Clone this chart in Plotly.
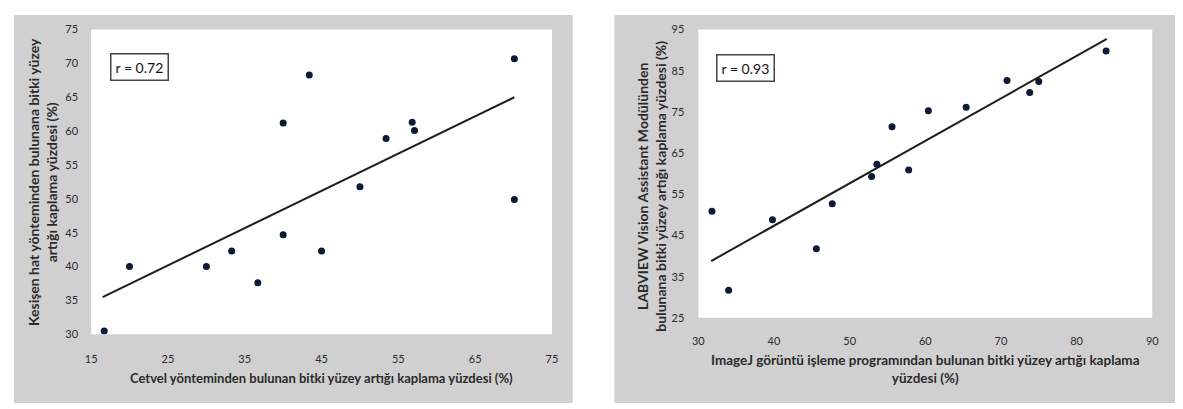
import plotly.graph_objects as go

# Page is rendered with an 8px body margin, so the figure is offset by 8px.
OFF = 8
W, H = 1183 - OFF, 409 - OFF

# ---- Left chart data ----
cetvel_x = [16.7, 20.0, 30.0, 33.3, 36.7, 40.0, 40.0, 43.4, 45.0, 50.0, 53.4, 56.8, 57.1, 70.1, 70.1]
kesisen_y = [30.5, 40.0, 40.0, 42.3, 37.6, 44.7, 61.2, 68.3, 42.3, 51.8, 58.9, 61.3, 60.1, 70.7, 49.9]
trend1_x = [16.5, 70.1]
trend1_y = [35.5, 65.0]
left_xticks = [15, 25, 35, 45, 55, 65, 75]
left_yticks = [30, 35, 40, 45, 50, 55, 60, 65, 70, 75]

# ---- Right chart data ----
imagej_x = [31.8, 34.0, 39.8, 45.6, 47.7, 52.9, 53.6, 55.6, 57.8, 60.4, 65.4, 70.8, 73.8, 75.0, 83.9]
labview_y = [50.9, 31.7, 48.8, 41.8, 52.7, 59.3, 62.3, 71.4, 60.9, 75.3, 76.1, 82.6, 79.7, 82.4, 89.8]
trend2_x = [31.7, 84.0]
trend2_y = [38.8, 92.7]
right_xticks = [30, 40, 50, 60, 70, 80, 90]
right_yticks = [25, 35, 45, 55, 65, 75, 85, 95]

FONT = "Lato"
DOT = "#0b1a36"
GRAY = "#d0d0d0"
TXT = "#2b2b2b"

fig = go.Figure()
fig.add_trace(go.Scatter(x=trend1_x, y=trend1_y, mode="lines",
                         line=dict(color="#1e1e1e", width=2), xaxis="x", yaxis="y"))
fig.add_trace(go.Scatter(x=cetvel_x, y=kesisen_y, mode="markers",
                         marker=dict(color=DOT, size=7), xaxis="x", yaxis="y"))
fig.add_trace(go.Scatter(x=trend2_x, y=trend2_y, mode="lines",
                         line=dict(color="#1e1e1e", width=2), xaxis="x2", yaxis="y2"))
fig.add_trace(go.Scatter(x=imagej_x, y=labview_y, mode="markers",
                         marker=dict(color=DOT, size=7), xaxis="x2", yaxis="y2"))


def px_x(p):
    return max(0.0, min(1.0, (p - OFF) / W))


def px_y(p):
    return max(0.0, min(1.0, 1 - (p - OFF) / H))


axis_common = dict(showgrid=False, zeroline=False, showline=False, ticks="",
                   tickfont=dict(family=FONT, size=11, color=TXT))

fig.update_layout(
    width=W, height=H,
    margin=dict(l=0, r=0, t=0, b=0),
    paper_bgcolor="white", plot_bgcolor="white",
    showlegend=False,
    xaxis=dict(domain=[px_x(86), px_x(552)], range=[15, 75], tickvals=left_xticks,
               ticklabelstandoff=17, anchor="y", **axis_common),
    yaxis=dict(domain=[px_y(338), px_y(23)], range=[30, 75], tickvals=left_yticks,
               ticklabelstandoff=12, anchor="x", **axis_common),
    xaxis2=dict(domain=[px_x(700), px_x(1159)], range=[30, 90], tickvals=right_xticks,
                ticklabelstandoff=15, anchor="y2", **axis_common),
    yaxis2=dict(domain=[px_y(321), px_y(23)], range=[25, 95], tickvals=right_yticks,
                ticklabelstandoff=13, anchor="x2", **axis_common),
)

shapes = [
    dict(type="rect", xref="paper", yref="paper", x0=px_x(7), x1=px_x(573),
         y0=px_y(409), y1=px_y(5), fillcolor=GRAY, line=dict(width=0), layer="below"),
    dict(type="rect", xref="paper", yref="paper", x0=px_x(615), x1=1.0,
         y0=px_y(409), y1=px_y(5), fillcolor=GRAY, line=dict(width=0), layer="below"),
    dict(type="rect", xref="x domain", yref="y domain", x0=0, x1=1, y0=0, y1=1,
         fillcolor="white", line=dict(width=0), layer="below"),
    dict(type="rect", xref="x2 domain", yref="y2 domain", x0=0, x1=1, y0=0, y1=1,
         fillcolor="white", line=dict(width=0), layer="below"),
]
fig.update_layout(shapes=shapes)

box_style = dict(xanchor="center", yanchor="middle", showarrow=False,
                 font=dict(family=FONT, size=14, color="#111"), bgcolor="white",
                 bordercolor="#444", borderwidth=1.5, borderpad=4,
                 xref="paper", yref="paper")

anns = [
    dict(text="r = 0.72", x=px_x(134.5), y=px_y(61.5), **box_style),
    dict(text="r = 0.93", x=px_x(748), y=px_y(62.5), **box_style),
    # left axis titles
    dict(text="<b>Cetvel yönteminden bulunan bitki yüzey artığı kaplama yüzdesi (%)</b>",
         xref="paper", yref="paper", x=px_x(319), y=px_y(383),
         xanchor="center", yanchor="middle", showarrow=False,
         font=dict(family=FONT, size=13, color=TXT)),
    dict(text="<b>Kesişen hat yönteminden bulunana bitki yüzey<br>artığı kaplama yüzdesi (%)</b>",
         xref="paper", yref="paper", x=px_x(37), y=px_y(181),
         xanchor="center", yanchor="middle", showarrow=False, textangle=-90,
         align="center", font=dict(family=FONT, size=14, color=TXT)),
    # right axis titles
    dict(text="<b>ImageJ görüntü işleme programından bulunan bitki yüzey artığı kaplama<br>yüzdesi (%)</b>",
         xref="paper", yref="paper", x=px_x(930), y=px_y(374),
         xanchor="center", yanchor="middle", showarrow=False, align="center",
         font=dict(family=FONT, size=13.5, color=TXT)),
    dict(text="<b>LABVIEW Vision Assistant Modülünden<br>bulunana bitki yüzey artığı kaplama yüzdesi (%)</b>",
         xref="paper", yref="paper", x=px_x(652.5), y=px_y(185),
         xanchor="center", yanchor="middle", showarrow=False, textangle=-90,
         align="center", font=dict(family=FONT, size=14, color=TXT)),
]
fig.update_layout(annotations=anns)

fig.write_html("out.html")
